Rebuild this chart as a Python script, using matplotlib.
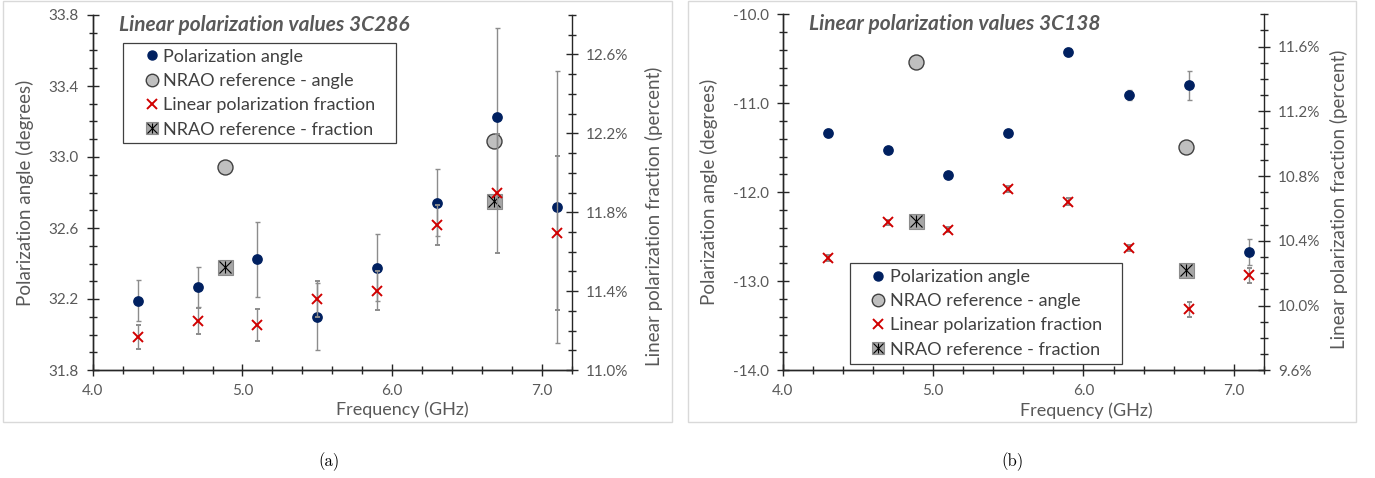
import matplotlib
matplotlib.use("Agg")
import matplotlib.pyplot as plt
from matplotlib.lines import Line2D
from matplotlib.patches import Rectangle
from matplotlib.ticker import MultipleLocator, FuncFormatter

plt.rcParams["font.family"] = ["Lato", "DejaVu Sans"]

# frequencies (GHz)
freq = [4.3, 4.7, 5.1, 5.5, 5.9, 6.3, 6.7, 7.1]
nrao_freq = [4.885, 6.68]

# 3C286
angle_286 = [32.19, 32.266, 32.423, 32.10, 32.377, 32.743, 33.227, 32.716]
angle_err_286 = [0.115, 0.113, 0.213, 0.188, 0.188, 0.19, 0.50, 0.766]
frac_286 = [11.167, 11.248, 11.228, 11.36, 11.402, 11.735, 11.895, 11.696]
frac_err_286 = [0.06, 0.065, 0.082, 0.09, 0.10, 0.10, 0.30, 0.39]
nrao_angle_286 = [32.946, 33.092]
nrao_frac_286 = [11.524, 11.857]

# 3C138
angle_138 = [-11.333, -11.52, -11.805, -11.333, -10.423, -10.91, -10.798, -12.67]
angle_err_138 = [0.045, 0.02, 0.02, 0.02, 0.045, 0.055, 0.16, 0.15]
frac_138 = [10.295, 10.515, 10.468, 10.72, 10.643, 10.355, 9.977, 10.186]
frac_err_138 = [0.02, 0.015, 0.015, 0.02, 0.02, 0.02, 0.045, 0.047]
nrao_angle_138 = [-10.536, -11.49]
nrao_frac_138 = [10.522, 10.219]

BLUE = "#002060"
RED = "#D00000"
ERR = "#8C8C8C"
TXT = "#595959"
SPINE = "#262626"


def style_axis(ax):
    ax.tick_params(which="major", direction="inout", length=8, width=1.0,
                   color=SPINE, labelcolor=TXT, labelsize=11, pad=6)
    ax.tick_params(which="minor", direction="inout", length=6, width=1.0,
                   color=SPINE)
    for s in ax.spines.values():
        s.set_color(SPINE)
        s.set_linewidth(1.0)
    ax.spines["top"].set_visible(False)


def draw_panel(ax, title, angle, angle_err, frac, frac_err, nrao_angle, nrao_frac,
               ylim, yticks, yminor, y2lim, y2ticks, label_pos, leg_frame, leg_anchor):
    ax2 = ax.twinx()
    style_axis(ax)
    style_axis(ax2)
    ax.spines["right"].set_visible(False)

    # reference circles first, then measured angles
    ax.plot(nrao_freq, nrao_angle, "o", ms=10.8, mfc="#BFBFBF", mec="#404040",
            mew=1.0, zorder=2)
    ax.errorbar(freq, angle, yerr=angle_err, fmt="o", ms=6.7, color=BLUE,
                ecolor=ERR, elinewidth=1.0, capsize=1.8, capthick=1.0, zorder=3)

    ax2.plot(nrao_freq, nrao_frac, "s", ms=10.8, mfc="#A6A6A6", mec="#8C8C8C",
             mew=0.8, zorder=2)
    ax2.plot(nrao_freq, nrao_frac, "x", ms=8, color="black", mew=0.8, zorder=2)
    ax2.plot(nrao_freq, nrao_frac, "|", ms=8, color="black", mew=0.8, zorder=2)
    ax2.errorbar(freq, frac, yerr=frac_err, fmt="x", ms=6.5, mew=1.4, color=RED,
                 ecolor=ERR, elinewidth=1.0, capsize=1.8, capthick=1.0, zorder=3)

    ax.set_xlim(4.0, 7.2)
    ax.xaxis.set_major_locator(MultipleLocator(1.0))
    ax.xaxis.set_minor_locator(MultipleLocator(0.2))
    ax.xaxis.set_major_formatter(FuncFormatter(lambda v, p: f"{v:.1f}"))
    ax.set_ylim(*ylim)
    ax.set_yticks(yticks)
    ax.yaxis.set_minor_locator(MultipleLocator(yminor))
    ax.yaxis.set_major_formatter(FuncFormatter(lambda v, p: f"{v:.1f}"))
    ax2.set_ylim(*y2lim)
    ax2.set_yticks(y2ticks)
    ax2.yaxis.set_minor_locator(MultipleLocator(0.1))
    ax2.yaxis.set_major_formatter(FuncFormatter(lambda v, p: f"{v:.1f}%"))

    # axis titles sit where the reference puts them, not centred on the axes
    (xl_x, xl_y), (yl_x, yl_y), (yr_x, yr_y) = label_pos
    ax.text(xl_x, xl_y, "Frequency (GHz)", transform=ax.transAxes, ha="center",
            va="center", color=TXT, fontsize=13)
    ax.text(yl_x, yl_y, "Polarization angle (degrees)", transform=ax.transAxes,
            ha="center", va="center", rotation=90, color=TXT, fontsize=13.5)
    ax.text(yr_x, yr_y, "Linear polarization fraction (percent)",
            transform=ax.transAxes, ha="center", va="center", rotation=90,
            color=TXT, fontsize=13.5)

    ax2.text(0.055, 0.972, title, transform=ax2.transAxes, ha="left", va="center",
             fontsize=15, fontweight="bold", fontstyle="italic", color=TXT)

    # legend: frame drawn separately so the handles can sit where the reference has them
    ax2.add_patch(Rectangle(leg_frame[:2], leg_frame[2], leg_frame[3],
                            transform=ax2.transAxes, facecolor="white",
                            edgecolor="#404040", linewidth=0.9, zorder=4,
                            clip_on=False))
    h_angle = Line2D([], [], ls="none", marker="o", ms=6.5, color=BLUE)
    h_nrao_a = Line2D([], [], ls="none", marker="o", ms=9, mfc="#BFBFBF",
                      mec="#404040", mew=1.0)
    h_frac = Line2D([], [], ls="none", marker="x", ms=6.5, mew=1.4, color=RED)
    h_sq = Line2D([], [], ls="none", marker="s", ms=9, mfc="#A6A6A6",
                  mec="#8C8C8C", mew=0.8)
    h_x = Line2D([], [], ls="none", marker="x", ms=7, color="black", mew=0.8)
    h_bar = Line2D([], [], ls="none", marker="|", ms=7, color="black", mew=0.8)
    leg = ax2.legend([h_angle, h_nrao_a, h_frac, (h_sq, h_x, h_bar)],
                     ["Polarization angle", "NRAO reference - angle",
                      "Linear polarization fraction", "NRAO reference - fraction"],
                     loc="center left", bbox_to_anchor=leg_anchor, frameon=False,
                     fontsize=13, handlelength=0.7, handletextpad=0.28,
                     labelspacing=0.46, borderpad=0, borderaxespad=0)
    for t in leg.get_texts():
        t.set_color("#404040")
    leg.set_zorder(5)


fig = plt.figure(figsize=(13.75, 4.78), dpi=100)

# light grey frames round each panel
for x0, x1 in [(3.3, 671.7), (688.3, 1356.0)]:
    fig.patches.append(Rectangle((x0 / 1375, 1 - 422.3 / 478), (x1 - x0) / 1375,
                                 421.3 / 478, transform=fig.transFigure,
                                 facecolor="none", edgecolor="#D9D9D9", linewidth=1.0))

ax_a = fig.add_axes([92.7 / 1375, 1 - 370 / 478, 479.3 / 1375, 355 / 478])
draw_panel(ax_a, "Linear polarization values 3C286", angle_286, angle_err_286,
           frac_286, frac_err_286, nrao_angle_286, nrao_frac_286,
           (31.8, 33.8), [31.8, 32.2, 32.6, 33.0, 33.4, 33.8], 0.1,
           (11.0, 12.8), [11.0, 11.4, 11.8, 12.2, 12.6],
           ((0.646, -0.113), (-0.141, 0.5), (1.172, 0.432)),
           (0.0626, 0.640, 0.5704, 0.280), (0.1104, 0.780))

ax_b = fig.add_axes([782.5 / 1375, 1 - 370.3 / 478, 481.5 / 1375, 356 / 478])
draw_panel(ax_b, "Linear polarization values 3C138", angle_138, angle_err_138,
           frac_138, frac_err_138, nrao_angle_138, nrao_frac_138,
           (-14.0, -10.0), [-14.0, -13.0, -12.0, -11.0, -10.0], 0.2,
           (9.6, 11.8), [9.6, 10.0, 10.4, 10.8, 11.2, 11.6],
           ((0.630, -0.113), (-0.152, 0.5), (1.156, 0.481)),
           (0.141, 0.017, 0.564, 0.2855), (0.186, 0.160))

fig.text(329 / 1375, 1 - 461.7 / 478, "(a)", ha="center", va="center",
         fontsize=12, family="cmr10")
fig.text(1013 / 1375, 1 - 461.7 / 478, "(b)", ha="center", va="center",
         fontsize=12, family="cmr10")

fig.savefig("out.png", dpi=100)
